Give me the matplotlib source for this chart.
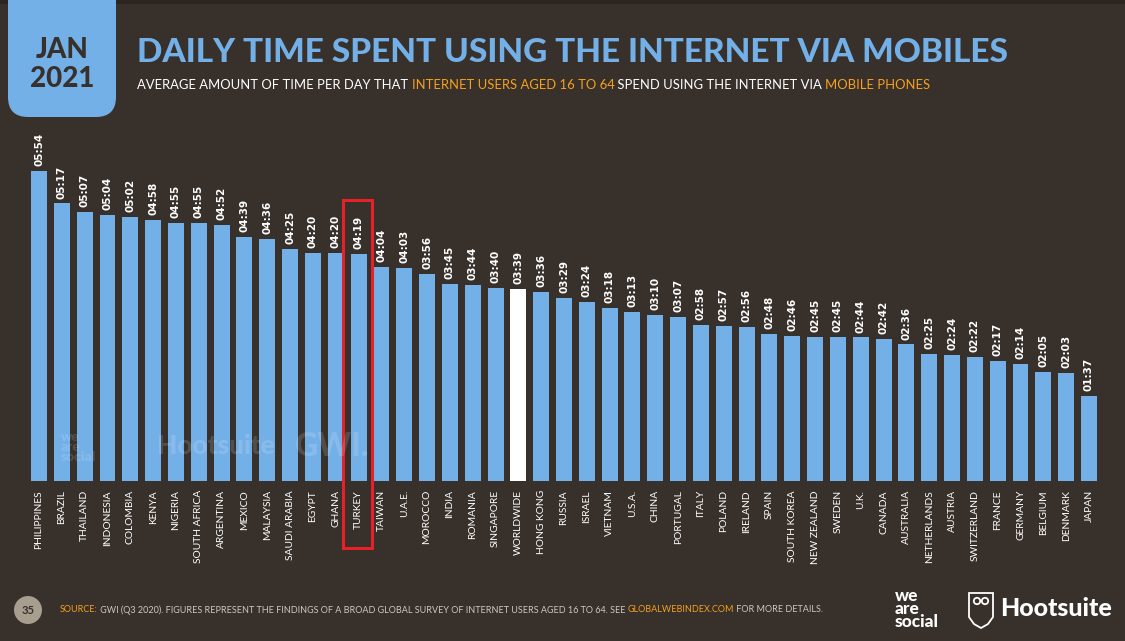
import numpy as np
import matplotlib
matplotlib.use("Agg")
import matplotlib.pyplot as plt
from matplotlib.patches import FancyBboxPatch, Rectangle, Circle, Polygon
from matplotlib.transforms import IdentityTransform

# data (hh:mm per day)
countries = ["PHILIPPINES", "BRAZIL", "THAILAND", "INDONESIA", "COLOMBIA", "KENYA",
             "NIGERIA", "SOUTH AFRICA", "ARGENTINA", "MEXICO", "MALAYSIA", "SAUDI ARABIA",
             "EGYPT", "GHANA", "TURKEY", "TAIWAN", "U.A.E.", "MOROCCO", "INDIA", "ROMANIA",
             "SINGAPORE", "WORLDWIDE", "HONG KONG", "RUSSIA", "ISRAEL", "VIETNAM", "U.S.A.",
             "CHINA", "PORTUGAL", "ITALY", "POLAND", "IRELAND", "SPAIN", "SOUTH KOREA",
             "NEW ZEALAND", "SWEDEN", "U.K.", "CANADA", "AUSTRALIA", "NETHERLANDS",
             "AUSTRIA", "SWITZERLAND", "FRANCE", "GERMANY", "BELGIUM", "DENMARK", "JAPAN"]
times = ["05:54", "05:17", "05:07", "05:04", "05:02", "04:58",
         "04:55", "04:55", "04:52", "04:39", "04:36", "04:25",
         "04:20", "04:20", "04:19", "04:04", "04:03", "03:56", "03:45", "03:44",
         "03:40", "03:39", "03:36", "03:29", "03:24", "03:18", "03:13",
         "03:10", "03:07", "02:58", "02:57", "02:56", "02:48", "02:46",
         "02:45", "02:45", "02:44", "02:42", "02:36", "02:25",
         "02:24", "02:22", "02:17", "02:14", "02:05", "02:03", "01:37"]
highlight = "TURKEY"
worldwide = "WORLDWIDE"

minutes = np.array([int(t[:2]) * 60 + int(t[3:]) for t in times])

W, H = 1125, 641
bg = "#37302b"
blue = "#74b0e8"
orange = "#f7a11c"
red = "#e8202a"
grey = "#cfc8bd"

fig = plt.figure(figsize=(W / 100, H / 100), dpi=100, facecolor=bg)
pix = IdentityTransform()   # display coords == pixels at dpi 100

def fx(px):
    return px / W

def fy(py):
    return 1 - py / H

################################################################################
# bars
ax = fig.add_axes([fx(27.6), fy(481), (1100.4 - 27.6) / W, 350.3 / H])
ax.set_facecolor(bg)
x = np.arange(len(countries))
colors = ["white" if c == worldwide else blue for c in countries]
ax.bar(x, minutes, width=0.70, color=colors, zorder=2)
ax.set_xlim(-0.5, len(countries) - 0.5)
ax.set_ylim(0, 400)
for s in ax.spines.values():
    s.set_visible(False)
ax.set_yticks([])
ax.set_xticks(x)
ax.set_xticklabels(countries, rotation=90, color="white", fontsize=7.4, family="Lato")
ax.tick_params(axis="x", length=0, pad=6.5)

for xi, m, t in zip(x, minutes, times):
    ax.annotate(t, (xi, m), xytext=(0, 3.5), textcoords="offset points", rotation=90,
                ha="center", va="bottom", color="white", fontsize=7.5, fontweight="bold",
                family=["Liberation Sans Narrow", "DejaVu Sans"])

ti = countries.index(highlight)
ax.add_patch(Rectangle((ti - 0.7, -76), 1.3, 397, fill=False, ec=red, lw=2.2,
                       clip_on=False, zorder=5))

# faint watermark over the bars
wm = dict(color="white", alpha=0.15, fontweight="black", family="Lato", va="center", zorder=10)
fig.text(fx(61), fy(447), "we\nare\nsocial", fontsize=10, linespacing=0.8, **wm)
fig.text(fx(157), fy(446), "Hootsuite", fontsize=19, **wm)
fig.text(fx(295), fy(446), "GWI.", fontsize=23, **wm)

################################################################################
# header
fig.patches.append(Rectangle((0, H - 4), W, 4, fc="#2b2521", ec="none", transform=pix))
fig.patches.append(FancyBboxPatch((8, H - 117), 108, 150, boxstyle="round,pad=0,rounding_size=20",
                                  fc=blue, ec="none", transform=pix, zorder=1))
fig.text(fx(62), fy(50), "JAN", color=bg, fontsize=20, fontweight="black", family="Lato",
         ha="center", va="center")
fig.text(fx(62), fy(79), "2021", color=bg, fontsize=20, fontweight="black", family="Lato",
         ha="center", va="center")

fig.text(fx(137), fy(52), "DAILY TIME SPENT USING THE INTERNET VIA MOBILES", color=blue,
         fontsize=24, fontweight="black", family="Lato", va="center")

renderer = fig.canvas.get_renderer()

def segments(parts, px, py, size, weight="normal"):
    for txt, col in parts:
        t = fig.text(fx(px), fy(py), txt, color=col, fontsize=size, fontweight=weight,
                     family="Lato", va="center")
        px += t.get_window_extent(renderer).width

segments([("AVERAGE AMOUNT OF TIME PER DAY THAT ", "white"),
          ("INTERNET USERS AGED 16 TO 64", orange),
          (" SPEND USING THE INTERNET VIA ", "white"),
          ("MOBILE PHONES", orange)], 137, 85, 9.33)

################################################################################
# footer
fig.patches.append(Circle((28, H - 610), 14, fc="#a89e90", ec="none", transform=pix))
fig.text(fx(28), fy(610), "35", color=bg, fontsize=8, fontweight="bold", family="Lato",
         ha="center", va="center")
segments([("SOURCE:", orange),
          (" GWI (Q3 2020). FIGURES REPRESENT THE FINDINGS OF A BROAD GLOBAL SURVEY OF INTERNET USERS AGED 16 TO 64. SEE ", grey),
          ("GLOBALWEBINDEX.COM", orange),
          (" FOR MORE DETAILS.", grey)], 60, 610, 6.5)

fig.text(fx(895), fy(609), "we\nare\nsocial", color="white", fontsize=12.5, fontweight="black",
         family="Lato", linespacing=0.78, va="center")
# owl shield outline
shield = [(969, 593), (993, 593), (993, 617), (988, 624), (981, 628), (974, 624), (969, 617)]
fig.patches.append(Polygon([(px, H - py) for px, py in shield], closed=True, fill=False,
                           ec="white", lw=1.3, transform=pix))
for ex in (977, 985):
    fig.patches.append(Circle((ex, H - 601), 3.2, fill=False, ec="white", lw=1.3, transform=pix))
fig.text(fx(1000), fy(608), "Hootsuite", color="white", fontsize=18, fontweight="black",
         family="Lato", va="center")

fig.savefig("out.png", dpi=100, facecolor=bg)
